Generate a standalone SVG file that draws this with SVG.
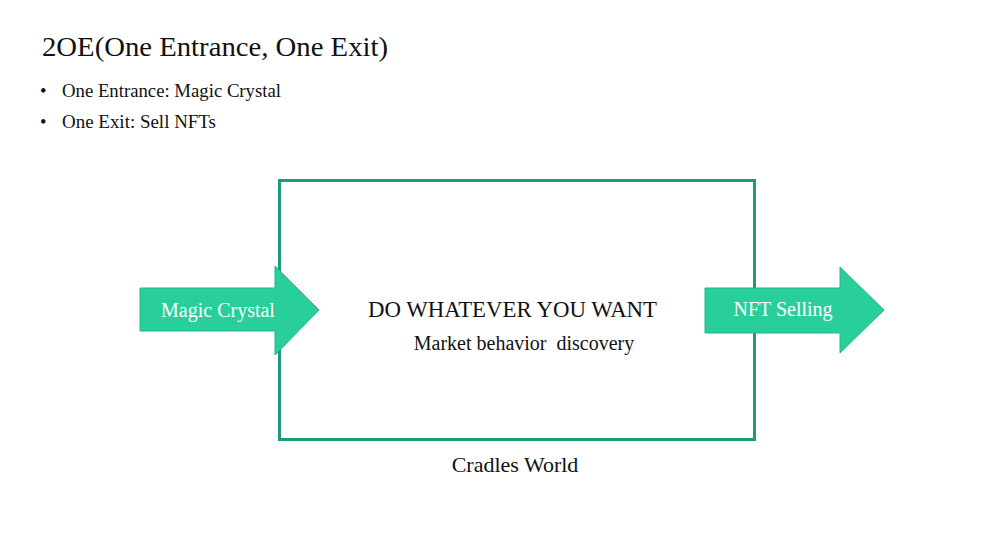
<svg xmlns="http://www.w3.org/2000/svg" width="995" height="540" viewBox="0 0 995 540">
  <style>
    text { font-family: "Liberation Serif", "Times New Roman", serif; fill: #111; }
    .title { font-size: 28px; }
    .bullet { font-size: 18.5px; }
    .main { font-size: 22.5px; }
    .sub { font-size: 20px; }
    .cap { font-size: 22px; }
    .lbl { font-size: 20px; fill: #ffffff; }
    .arrow { fill: #28cf9b; stroke: #22b58a; stroke-width: 1; }
    .box { fill: none; stroke: #1f9a78; stroke-width: 3; }
  </style>
  <rect width="995" height="540" fill="#ffffff"/>
  <g id="header">
    <text class="title" x="42" y="56" textLength="346" lengthAdjust="spacingAndGlyphs">2OE(One Entrance, One Exit)</text>
    <text class="bullet" x="40" y="97">•</text>
    <text class="bullet" x="62" y="97" textLength="219" lengthAdjust="spacingAndGlyphs">One Entrance: Magic Crystal</text>
    <text class="bullet" x="40" y="128">•</text>
    <text class="bullet" x="62" y="128" textLength="154" lengthAdjust="spacingAndGlyphs">One Exit: Sell NFTs</text>
  </g>
  <g id="cradles-world">
    <rect class="box" x="279.5" y="180.5" width="475" height="259"/>
    <text class="main" x="368" y="317" textLength="289" lengthAdjust="spacingAndGlyphs">DO WHATEVER YOU WANT</text>
    <text class="sub" x="524" y="350" text-anchor="middle" xml:space="preserve">Market behavior  discovery</text>
    <text class="cap" x="515" y="472" text-anchor="middle">Cradles World</text>
  </g>
  <g id="connectors"></g>
  <g id="magic-crystal">
    <polygon class="arrow" points="140,288 275,288 275,266 319,310 275,355 275,331 140,331"/>
    <text class="lbl" x="218" y="317" text-anchor="middle">Magic Crystal</text>
  </g>
  <g id="nft-selling">
    <polygon class="arrow" points="705,288 840,288 840,267 884,310 840,353 840,333 705,333"/>
    <text class="lbl" x="783" y="316" text-anchor="middle">NFT Selling</text>
  </g>
</svg>
